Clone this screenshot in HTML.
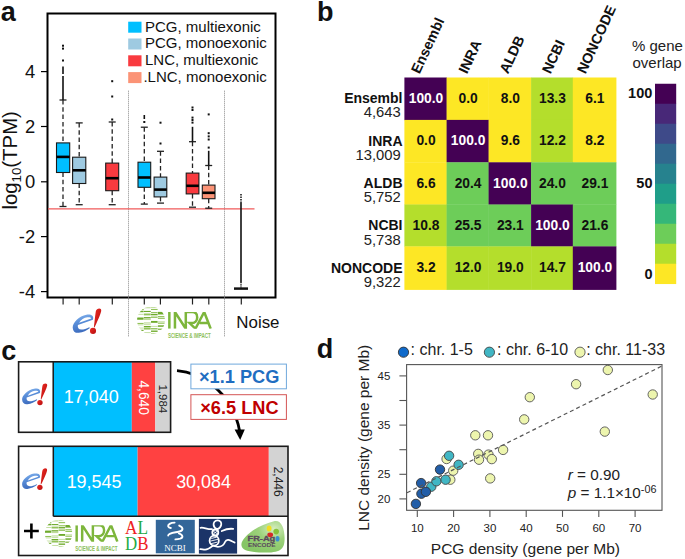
<!DOCTYPE html>
<html><head><meta charset="utf-8"><style>
html,body{margin:0;padding:0;background:#fff;overflow:hidden;width:685px;height:559px;}
svg{display:block;}
text{font-family:"Liberation Sans",sans-serif;fill:#111;}
.wh{stroke:#222;stroke-width:1.3;stroke-dasharray:4.5,2.8;}
.cap{stroke:#222;stroke-width:1.3;}
.bx{stroke:#1a1a1a;stroke-width:1.1;}
.med{stroke:#000;stroke-width:2.6;}
.ol{stroke:#111;stroke-width:1.6;}
</style></head><body>
<svg width="685" height="559" viewBox="0 0 685 559">
<defs>
<linearGradient id="eg" x1="0" y1="0" x2="0.3" y2="1">
<stop offset="0" stop-color="#8AB8F0"/><stop offset="0.45" stop-color="#5B90DA"/><stop offset="1" stop-color="#3D6CBE"/></linearGradient>
<linearGradient id="rg" x1="0" y1="0" x2="1" y2="1">
<stop offset="0" stop-color="#EC2A22"/><stop offset="1" stop-color="#B50E10"/></linearGradient>
<radialGradient id="fg" cx="0.75" cy="0.25" r="0.8">
<stop offset="0" stop-color="#D6EDC0"/><stop offset="0.45" stop-color="#9CD27A"/><stop offset="1" stop-color="#86C566"/></radialGradient>
<clipPath id="tclip"><rect x="28" y="5.4" width="50" height="16.8"/></clipPath>
<clipPath id="gclip"><circle cx="14" cy="13.8" r="13.9"/></clipPath>


</defs>
<text x="0.8" y="21.2" font-size="27" font-weight="bold">a</text>
<text x="317" y="21" font-size="27" font-weight="bold">b</text>
<text x="1.2" y="359.8" font-size="27" font-weight="bold">c</text>
<text x="316.8" y="358.3" font-size="27" font-weight="bold">d</text>
<rect x="47.5" y="13.5" width="228" height="284" fill="none" stroke="#000" stroke-width="2"/>
<line x1="128.5" y1="90.7" x2="128.5" y2="337" stroke="#888" stroke-width="1" stroke-dasharray="1,1"/>
<line x1="224.5" y1="90.7" x2="224.5" y2="337" stroke="#888" stroke-width="1" stroke-dasharray="1,1"/>
<line x1="41" y1="71.6" x2="47" y2="71.6" stroke="#000" stroke-width="1.2"/>
<text x="35.2" y="78.19999999999999" text-anchor="end" font-size="18.4">4</text>
<line x1="41" y1="126.5" x2="47" y2="126.5" stroke="#000" stroke-width="1.2"/>
<text x="35.2" y="133.1" text-anchor="end" font-size="18.4">2</text>
<line x1="41" y1="181.8" x2="47" y2="181.8" stroke="#000" stroke-width="1.2"/>
<text x="35.2" y="188.4" text-anchor="end" font-size="18.4">0</text>
<line x1="41" y1="236.6" x2="47" y2="236.6" stroke="#000" stroke-width="1.2"/>
<text x="35.2" y="243.2" text-anchor="end" font-size="18.4">-2</text>
<line x1="41" y1="291.6" x2="47" y2="291.6" stroke="#000" stroke-width="1.2"/>
<text x="35.2" y="298.20000000000005" text-anchor="end" font-size="18.4">-4</text>
<line x1="63.1" y1="298" x2="63.1" y2="304.5" stroke="#222" stroke-width="1.2"/>
<line x1="79.2" y1="298" x2="79.2" y2="304.5" stroke="#222" stroke-width="1.2"/>
<line x1="112.3" y1="298" x2="112.3" y2="304.5" stroke="#222" stroke-width="1.2"/>
<line x1="144.3" y1="298" x2="144.3" y2="304.5" stroke="#222" stroke-width="1.2"/>
<line x1="160.4" y1="298" x2="160.4" y2="304.5" stroke="#222" stroke-width="1.2"/>
<line x1="192.5" y1="298" x2="192.5" y2="304.5" stroke="#222" stroke-width="1.2"/>
<line x1="208.8" y1="298" x2="208.8" y2="304.5" stroke="#222" stroke-width="1.2"/>
<line x1="241.3" y1="298" x2="241.3" y2="304.5" stroke="#222" stroke-width="1.2"/>
<line x1="48" y1="208.9" x2="254.5" y2="208.9" stroke="#F05A5A" stroke-width="1.3"/>
<line x1="63" y1="100" x2="63" y2="142.9" class="wh"/>
<line x1="63" y1="172.5" x2="63" y2="206.5" class="wh"/>
<line x1="59.5" y1="100" x2="66.5" y2="100" class="cap"/>
<line x1="59.5" y1="206.5" x2="66.5" y2="206.5" class="cap"/>
<rect x="56.5" y="142.9" width="13.200000000000003" height="29.599999999999994" fill="#00BFFF" class="bx"/>
<line x1="56.5" y1="156.9" x2="69.7" y2="156.9" class="med"/>
<line x1="63" y1="66.5" x2="63" y2="74" class="ol"/>
<line x1="63" y1="76" x2="63" y2="100" class="ol"/>
<rect x="62" y="44.7" width="2" height="2" fill="#111"/>
<rect x="62" y="47.6" width="2" height="2" fill="#111"/>
<rect x="62" y="59.5" width="2" height="2" fill="#111"/>
<line x1="79.2" y1="122.9" x2="79.2" y2="157.2" class="wh"/>
<line x1="79.2" y1="183.5" x2="79.2" y2="204.7" class="wh"/>
<line x1="75.7" y1="122.9" x2="82.7" y2="122.9" class="cap"/>
<line x1="75.7" y1="204.7" x2="82.7" y2="204.7" class="cap"/>
<rect x="72.6" y="157.2" width="13.200000000000003" height="26.30000000000001" fill="#9ECAE1" class="bx"/>
<line x1="72.6" y1="170.3" x2="85.8" y2="170.3" class="med"/>
<line x1="112.2" y1="122" x2="112.2" y2="163.1" class="wh"/>
<line x1="112.2" y1="190.7" x2="112.2" y2="204.7" class="wh"/>
<line x1="108.7" y1="122" x2="115.7" y2="122" class="cap"/>
<line x1="108.7" y1="204.7" x2="115.7" y2="204.7" class="cap"/>
<rect x="105.7" y="163.1" width="13.0" height="27.599999999999994" fill="#F93A3F" class="bx"/>
<line x1="105.7" y1="178.2" x2="118.7" y2="178.2" class="med"/>
<rect x="111.2" y="80.2" width="2" height="2" fill="#111"/>
<rect x="111.2" y="95.5" width="2" height="2" fill="#111"/>
<rect x="111.2" y="118.5" width="2" height="2" fill="#111"/>
<line x1="144.3" y1="127.2" x2="144.3" y2="162.2" class="wh"/>
<line x1="144.3" y1="187.3" x2="144.3" y2="204.1" class="wh"/>
<line x1="140.8" y1="127.2" x2="147.8" y2="127.2" class="cap"/>
<line x1="140.8" y1="204.1" x2="147.8" y2="204.1" class="cap"/>
<rect x="138" y="162.2" width="12.699999999999989" height="25.100000000000023" fill="#00BFFF" class="bx"/>
<line x1="138" y1="177.5" x2="150.7" y2="177.5" class="med"/>
<line x1="144.3" y1="115" x2="144.3" y2="119" class="ol"/>
<rect x="143.3" y="121" width="2" height="2" fill="#111"/>
<line x1="160.5" y1="151.3" x2="160.5" y2="177.1" class="wh"/>
<line x1="160.5" y1="196.9" x2="160.5" y2="203.1" class="wh"/>
<line x1="157.0" y1="151.3" x2="164.0" y2="151.3" class="cap"/>
<line x1="157.0" y1="203.1" x2="164.0" y2="203.1" class="cap"/>
<rect x="154.1" y="177.1" width="12.700000000000017" height="19.80000000000001" fill="#9ECAE1" class="bx"/>
<line x1="154.1" y1="189.6" x2="166.8" y2="189.6" class="med"/>
<rect x="159.5" y="142.5" width="2" height="2" fill="#111"/>
<rect x="159.5" y="121.7" width="2" height="2" fill="#111"/>
<line x1="192.5" y1="141.7" x2="192.5" y2="173.1" class="wh"/>
<line x1="192.5" y1="193.9" x2="192.5" y2="207.2" class="wh"/>
<line x1="189.0" y1="141.7" x2="196.0" y2="141.7" class="cap"/>
<line x1="189.0" y1="207.2" x2="196.0" y2="207.2" class="cap"/>
<rect x="186.2" y="173.1" width="12.700000000000017" height="20.80000000000001" fill="#F93A3F" class="bx"/>
<line x1="186.2" y1="185.8" x2="198.9" y2="185.8" class="med"/>
<line x1="192.5" y1="126.8" x2="192.5" y2="141.7" class="ol"/>
<rect x="191.5" y="106.5" width="2" height="2" fill="#111"/>
<rect x="191.5" y="109" width="2" height="2" fill="#111"/>
<rect x="191.5" y="116.6" width="2" height="2" fill="#111"/>
<rect x="191.5" y="119" width="2" height="2" fill="#111"/>
<rect x="191.5" y="121.6" width="2" height="2" fill="#111"/>
<line x1="208.7" y1="165.5" x2="208.7" y2="185.1" class="wh"/>
<line x1="208.7" y1="198.7" x2="208.7" y2="208.2" class="wh"/>
<line x1="205.2" y1="165.5" x2="212.2" y2="165.5" class="cap"/>
<line x1="205.2" y1="208.2" x2="212.2" y2="208.2" class="cap"/>
<rect x="202.3" y="185.1" width="12.699999999999989" height="13.599999999999994" fill="#FB9376" class="bx"/>
<line x1="202.3" y1="192.8" x2="215" y2="192.8" class="med"/>
<line x1="208.7" y1="150.8" x2="208.7" y2="165.5" class="ol"/>
<rect x="207.7" y="113.4" width="2" height="2" fill="#111"/>
<rect x="207.7" y="132.2" width="2" height="2" fill="#111"/>
<rect x="207.7" y="135.4" width="2" height="2" fill="#111"/>
<rect x="207.7" y="138.5" width="2" height="2" fill="#111"/>
<rect x="207.7" y="146.6" width="2" height="2" fill="#111"/>
<line x1="241" y1="194" x2="241" y2="203" stroke="#111" stroke-width="1.5" stroke-dasharray="1.5,1"/>
<line x1="241" y1="203" x2="241" y2="282" stroke="#111" stroke-width="1.6"/>
<line x1="234" y1="288.6" x2="248" y2="288.6" stroke="#111" stroke-width="2.5"/>
<line x1="241" y1="282" x2="241" y2="288" stroke="#111" stroke-width="1.5" stroke-dasharray="1.2,1"/>
<rect x="128.2" y="21.7" width="13.3" height="11" fill="#00BFFF"/>
<text x="145" y="31.6" font-size="15">PCG, multiexonic</text>
<rect x="128.2" y="38.5" width="13.3" height="11" fill="#9ECAE1"/>
<text x="145" y="48.4" font-size="15">PCG, monoexonic</text>
<rect x="128.2" y="55.3" width="13.3" height="11" fill="#F93A3F"/>
<text x="145" y="65.2" font-size="15">LNC, multiexonic</text>
<rect x="128.2" y="72.10000000000001" width="13.3" height="11" fill="#FB9376"/>
<text x="143.4" y="82.00000000000001" font-size="15">.LNC, monoexonic</text>
<text transform="translate(16.7,209.6) rotate(-90)" font-size="20.4">log<tspan font-size="13.2" dy="4">10</tspan><tspan dy="-4">(TPM)</tspan></text>
<text x="236.3" y="327.9" font-size="16.9">Noise</text>
<rect x="404.40" y="77.50" width="42.50" height="42.70" fill="#440154"/>
<rect x="446.60" y="77.50" width="42.30" height="42.70" fill="#FDE725"/>
<rect x="488.60" y="77.50" width="42.80" height="42.70" fill="#FDE725"/>
<rect x="531.10" y="77.50" width="42.00" height="42.70" fill="#B4DE2C"/>
<rect x="572.80" y="77.50" width="43.60" height="42.70" fill="#FDE725"/>
<rect x="404.40" y="119.90" width="42.50" height="42.70" fill="#FDE725"/>
<rect x="446.60" y="119.90" width="42.30" height="42.70" fill="#440154"/>
<rect x="488.60" y="119.90" width="42.80" height="42.70" fill="#FDE725"/>
<rect x="531.10" y="119.90" width="42.00" height="42.70" fill="#B4DE2C"/>
<rect x="572.80" y="119.90" width="43.60" height="42.70" fill="#FDE725"/>
<rect x="404.40" y="162.30" width="42.50" height="42.50" fill="#FDE725"/>
<rect x="446.60" y="162.30" width="42.30" height="42.50" fill="#6DCD59"/>
<rect x="488.60" y="162.30" width="42.80" height="42.50" fill="#440154"/>
<rect x="531.10" y="162.30" width="42.00" height="42.50" fill="#6DCD59"/>
<rect x="572.80" y="162.30" width="43.60" height="42.50" fill="#6DCD59"/>
<rect x="404.40" y="204.50" width="42.50" height="42.20" fill="#B4DE2C"/>
<rect x="446.60" y="204.50" width="42.30" height="42.20" fill="#6DCD59"/>
<rect x="488.60" y="204.50" width="42.80" height="42.20" fill="#6DCD59"/>
<rect x="531.10" y="204.50" width="42.00" height="42.20" fill="#440154"/>
<rect x="572.80" y="204.50" width="43.60" height="42.20" fill="#6DCD59"/>
<rect x="404.40" y="246.40" width="42.50" height="43.50" fill="#FDE725"/>
<rect x="446.60" y="246.40" width="42.30" height="43.50" fill="#B4DE2C"/>
<rect x="488.60" y="246.40" width="42.80" height="43.50" fill="#B4DE2C"/>
<rect x="531.10" y="246.40" width="42.00" height="43.50" fill="#B4DE2C"/>
<rect x="572.80" y="246.40" width="43.60" height="43.50" fill="#440154"/>
<text x="426.00" y="102.90" text-anchor="middle" font-size="13.8" font-weight="bold" style="fill:#fff">100.0</text>
<text x="468.10" y="102.90" text-anchor="middle" font-size="13.8" font-weight="bold" style="fill:#111">0.0</text>
<text x="510.35" y="102.90" text-anchor="middle" font-size="13.8" font-weight="bold" style="fill:#111">8.0</text>
<text x="552.45" y="102.90" text-anchor="middle" font-size="13.8" font-weight="bold" style="fill:#111">13.3</text>
<text x="594.95" y="102.90" text-anchor="middle" font-size="13.8" font-weight="bold" style="fill:#111">6.1</text>
<text x="426.00" y="145.30" text-anchor="middle" font-size="13.8" font-weight="bold" style="fill:#111">0.0</text>
<text x="468.10" y="145.30" text-anchor="middle" font-size="13.8" font-weight="bold" style="fill:#fff">100.0</text>
<text x="510.35" y="145.30" text-anchor="middle" font-size="13.8" font-weight="bold" style="fill:#111">9.6</text>
<text x="552.45" y="145.30" text-anchor="middle" font-size="13.8" font-weight="bold" style="fill:#111">12.2</text>
<text x="594.95" y="145.30" text-anchor="middle" font-size="13.8" font-weight="bold" style="fill:#111">8.2</text>
<text x="426.00" y="187.70" text-anchor="middle" font-size="13.8" font-weight="bold" style="fill:#111">6.6</text>
<text x="468.10" y="187.70" text-anchor="middle" font-size="13.8" font-weight="bold" style="fill:#111">20.4</text>
<text x="510.35" y="187.70" text-anchor="middle" font-size="13.8" font-weight="bold" style="fill:#fff">100.0</text>
<text x="552.45" y="187.70" text-anchor="middle" font-size="13.8" font-weight="bold" style="fill:#111">24.0</text>
<text x="594.95" y="187.70" text-anchor="middle" font-size="13.8" font-weight="bold" style="fill:#111">29.1</text>
<text x="426.00" y="229.90" text-anchor="middle" font-size="13.8" font-weight="bold" style="fill:#111">10.8</text>
<text x="468.10" y="229.90" text-anchor="middle" font-size="13.8" font-weight="bold" style="fill:#111">25.5</text>
<text x="510.35" y="229.90" text-anchor="middle" font-size="13.8" font-weight="bold" style="fill:#111">23.1</text>
<text x="552.45" y="229.90" text-anchor="middle" font-size="13.8" font-weight="bold" style="fill:#fff">100.0</text>
<text x="594.95" y="229.90" text-anchor="middle" font-size="13.8" font-weight="bold" style="fill:#111">21.6</text>
<text x="426.00" y="271.80" text-anchor="middle" font-size="13.8" font-weight="bold" style="fill:#111">3.2</text>
<text x="468.10" y="271.80" text-anchor="middle" font-size="13.8" font-weight="bold" style="fill:#111">12.0</text>
<text x="510.35" y="271.80" text-anchor="middle" font-size="13.8" font-weight="bold" style="fill:#111">19.0</text>
<text x="552.45" y="271.80" text-anchor="middle" font-size="13.8" font-weight="bold" style="fill:#111">14.7</text>
<text x="594.95" y="271.80" text-anchor="middle" font-size="13.8" font-weight="bold" style="fill:#fff">100.0</text>
<text x="402.5" y="103.10" text-anchor="end" font-size="14" font-weight="bold">Ensembl</text>
<text x="400.8" y="117.30" text-anchor="end" font-size="14.8" style="fill:#222">4,643</text>
<text x="402.5" y="145.54" text-anchor="end" font-size="14" font-weight="bold">INRA</text>
<text x="400.8" y="159.74" text-anchor="end" font-size="14.8" style="fill:#222">13,009</text>
<text x="402.5" y="187.98" text-anchor="end" font-size="14" font-weight="bold">ALDB</text>
<text x="400.8" y="202.18" text-anchor="end" font-size="14.8" style="fill:#222">5,752</text>
<text x="402.5" y="230.42" text-anchor="end" font-size="14" font-weight="bold">NCBI</text>
<text x="400.8" y="244.62" text-anchor="end" font-size="14.8" style="fill:#222">5,738</text>
<text x="402.5" y="272.86" text-anchor="end" font-size="14" font-weight="bold">NONCODE</text>
<text x="400.8" y="287.06" text-anchor="end" font-size="14.8" style="fill:#222">9,322</text>
<text transform="translate(419.5,74.6) rotate(-65)" font-size="14.3" font-weight="bold">Ensembl</text>
<text transform="translate(467,74.6) rotate(-65)" font-size="14.3" font-weight="bold">INRA</text>
<text transform="translate(508,74.6) rotate(-65)" font-size="14.3" font-weight="bold">ALDB</text>
<text transform="translate(550.5,74.6) rotate(-65)" font-size="14.3" font-weight="bold">NCBI</text>
<text transform="translate(585.5,74.6) rotate(-65)" font-size="14.3" font-weight="bold">NONCODE</text>
<rect x="655" y="83.75" width="21.2" height="20.3" fill="#440154"/>
<rect x="655" y="103.75" width="21.2" height="20.3" fill="#482878"/>
<rect x="655" y="123.75" width="21.2" height="20.3" fill="#3E4A89"/>
<rect x="655" y="143.75" width="21.2" height="20.3" fill="#31688E"/>
<rect x="655" y="163.75" width="21.2" height="20.3" fill="#26828E"/>
<rect x="655" y="183.75" width="21.2" height="20.3" fill="#1F9E89"/>
<rect x="655" y="203.75" width="21.2" height="20.3" fill="#35B779"/>
<rect x="655" y="223.75" width="21.2" height="20.3" fill="#6DCD59"/>
<rect x="655" y="243.75" width="21.2" height="20.3" fill="#B4DE2C"/>
<rect x="655" y="263.75" width="21.2" height="20.3" fill="#FDE725"/>
<text x="652.3" y="98.4" text-anchor="end" font-size="14.5" font-weight="bold">100</text>
<text x="652.5" y="187.6" text-anchor="end" font-size="14.5" font-weight="bold">50</text>
<text x="652.5" y="278.7" text-anchor="end" font-size="14.5" font-weight="bold">0</text>
<text x="632" y="50.9" font-size="15" style="fill:#222">% gene</text>
<text x="632.5" y="68.4" font-size="15" style="fill:#222">overlap</text>
<g transform="translate(71.9,307.8)">
<path fill-rule="evenodd" d="M21.0,11.9 C22.45,7.5 18.6,6.2 14.5,6.9 C7.4,8.2 0.5,14.6 0.8,19.85 C1.0,23.65 3.55,25.4 6.9,25.0 C11.05,24.6 14.9,22.45 18.0,20.15 L17.3,19.35 C14.55,20.95 11.75,21.7 9.55,21.7 C6.6,21.7 5.45,19.85 6.0,17.15 Z M7.2,15.05 C8.8,12.0 12.25,9.7 15.4,9.4 C17.95,9.2 19.2,9.85 19.4,10.6 Z" fill="url(#eg)"/>
<path d="M25.2,1.4 C27.2,0.1 29.8,0.8 29.3,3.2 C28.7,6.6 24.6,15.6 22.6,19.6 L22.0,19.5 C22.6,14.8 23.4,6.4 23.9,3.8 C24.1,2.6 24.5,1.9 25.2,1.4 Z" fill="url(#rg)"/>
<circle cx="21.1" cy="23.1" r="3.05" fill="url(#rg)"/>
</g>
<g transform="translate(137,306.6)">
<g fill="none" stroke="#7DB63C" stroke-width="2.5" stroke-linejoin="miter" clip-path="url(#tclip)">
<path d="M32.35,5.4 V22.2"/>
<path d="M37.95,22.2 V5.4 L48.8,22.2 V5.4 H55.3 C58.6,5.4 60.2,7.6 60.2,10.8 C60.2,14.2 57.9,16.5 54.2,16.5 H52.6 L58.6,22.2"/>
<path d="M58.4,22.2 L67.2,5.4 L73.7,22.2 M62.6,16.5 H71.4"/>
</g>
<text x="30.9" y="31.1" font-size="7.6" font-weight="bold" textLength="42.9" lengthAdjust="spacingAndGlyphs" style="fill:#8CC059">SCIENCE &amp; IMPACT</text>
<g clip-path="url(#gclip)"><rect x="-0.00" y="2.30" width="6.58" height="1.12" fill="#6EAA2B"/><rect x="-0.00" y="4.12" width="6.58" height="1.49" fill="#6EAA2B"/><rect x="-0.00" y="7.28" width="6.58" height="0.89" fill="#BEDB98"/><rect x="-0.00" y="10.90" width="6.58" height="2.23" fill="#6EAA2B"/><rect x="-0.00" y="16.32" width="6.58" height="1.12" fill="#93C35A"/><rect x="-0.00" y="17.87" width="6.58" height="0.89" fill="#BEDB98"/><rect x="-0.00" y="21.01" width="6.58" height="0.89" fill="#BEDB98"/><rect x="-0.00" y="23.19" width="6.58" height="1.12" fill="#6EAA2B"/><rect x="6.87" y="0.58" width="6.87" height="1.12" fill="#BEDB98"/><rect x="6.87" y="4.30" width="6.87" height="1.12" fill="#6EAA2B"/><rect x="6.87" y="6.91" width="6.87" height="1.86" fill="#93C35A"/><rect x="6.87" y="10.49" width="6.87" height="1.34" fill="#6EAA2B"/><rect x="6.87" y="12.32" width="6.87" height="1.12" fill="#BEDB98"/><rect x="6.87" y="15.75" width="6.87" height="1.12" fill="#BEDB98"/><rect x="6.87" y="17.29" width="6.87" height="0.89" fill="#BEDB98"/><rect x="6.87" y="19.36" width="6.87" height="1.34" fill="#6EAA2B"/><rect x="6.87" y="21.10" width="6.87" height="1.86" fill="#93C35A"/><rect x="6.87" y="25.59" width="6.87" height="0.89" fill="#BEDB98"/><rect x="14.02" y="0.41" width="6.58" height="0.89" fill="#BEDB98"/><rect x="14.02" y="2.30" width="6.58" height="1.12" fill="#93C35A"/><rect x="14.02" y="5.45" width="6.58" height="1.12" fill="#93C35A"/><rect x="14.02" y="7.34" width="6.58" height="1.34" fill="#6EAA2B"/><rect x="14.02" y="9.28" width="6.58" height="0.89" fill="#BEDB98"/><rect x="14.02" y="10.43" width="6.58" height="0.89" fill="#93C35A"/><rect x="14.02" y="14.35" width="6.58" height="1.86" fill="#6EAA2B"/><rect x="14.02" y="19.30" width="6.58" height="0.89" fill="#BEDB98"/><rect x="14.02" y="21.48" width="6.58" height="1.34" fill="#93C35A"/><rect x="14.02" y="23.94" width="6.58" height="1.34" fill="#6EAA2B"/><rect x="14.02" y="26.45" width="6.58" height="0.89" fill="#BEDB98"/><rect x="20.89" y="5.28" width="7.16" height="2.60" fill="#6EAA2B"/><rect x="20.89" y="9.45" width="7.16" height="1.12" fill="#93C35A"/><rect x="20.89" y="11.17" width="7.16" height="1.12" fill="#93C35A"/><rect x="20.89" y="14.72" width="7.16" height="0.89" fill="#BEDB98"/><rect x="20.89" y="16.04" width="7.16" height="1.12" fill="#93C35A"/><rect x="20.89" y="18.71" width="7.16" height="1.49" fill="#6EAA2B"/><rect x="20.89" y="22.05" width="7.16" height="1.12" fill="#6EAA2B"/></g>
</g>
<rect x="53" y="361.5" width="78.8" height="71" fill="#00BFFF"/>
<rect x="131.8" y="361.5" width="23.5" height="71" fill="#FF4141"/>
<rect x="155.3" y="361.5" width="15.4" height="71" fill="#D3D3D3"/>
<rect x="18.6" y="361.8" width="152" height="70.5" fill="none" stroke="#1a1a1a" stroke-width="1.6"/>
<line x1="53.2" y1="361.5" x2="53.2" y2="432.5" stroke="#1a1a1a" stroke-width="1.5"/>
<text x="91.2" y="403.4" text-anchor="middle" font-size="18" style="fill:#fff">17,040</text>
<text transform="translate(139.4,397.7) rotate(90)" text-anchor="middle" font-size="13.8" style="fill:#fff">4,640</text>
<text transform="translate(158.6,398.8) rotate(90)" text-anchor="middle" font-size="11.5" style="fill:#222">1,984</text>
<g transform="translate(21.4,382.8) scale(0.88,0.855)">
<path fill-rule="evenodd" d="M21.0,11.9 C22.45,7.5 18.6,6.2 14.5,6.9 C7.4,8.2 0.5,14.6 0.8,19.85 C1.0,23.65 3.55,25.4 6.9,25.0 C11.05,24.6 14.9,22.45 18.0,20.15 L17.3,19.35 C14.55,20.95 11.75,21.7 9.55,21.7 C6.6,21.7 5.45,19.85 6.0,17.15 Z M7.2,15.05 C8.8,12.0 12.25,9.7 15.4,9.4 C17.95,9.2 19.2,9.85 19.4,10.6 Z" fill="url(#eg)"/>
<path d="M25.2,1.4 C27.2,0.1 29.8,0.8 29.3,3.2 C28.7,6.6 24.6,15.6 22.6,19.6 L22.0,19.5 C22.6,14.8 23.4,6.4 23.9,3.8 C24.1,2.6 24.5,1.9 25.2,1.4 Z" fill="url(#rg)"/>
<circle cx="21.1" cy="23.1" r="3.05" fill="url(#rg)"/>
</g>
<path d="M177,370.6 C198,372 232,390 239.6,431" fill="none" stroke="#000" stroke-width="2.8"/>
<path d="M234.6,429.5 L244.8,429.5 L240.2,440 Z" fill="#000"/>
<rect x="190.9" y="364.1" width="95.5" height="24.7" fill="#fff" stroke="#6FA8DC" stroke-width="1"/>
<rect x="190.9" y="394.7" width="95.5" height="24.7" fill="#fff" stroke="#D45555" stroke-width="1"/>
<text x="199" y="382.8" font-size="18.2" font-weight="bold" style="fill:#1F6EC1">×1.1 PCG</text>
<text x="200.2" y="413.9" font-size="18.2" font-weight="bold" style="fill:#C00000">×6.5 LNC</text>
<rect x="53.3" y="446" width="84.3" height="70" fill="#00BFFF"/>
<rect x="137.6" y="446" width="131.2" height="70" fill="#FF4141"/>
<rect x="268.8" y="446" width="19.2" height="70" fill="#D3D3D3"/>
<rect x="18.6" y="446.3" width="269.4" height="109.2" fill="none" stroke="#1a1a1a" stroke-width="1.6"/>
<line x1="53.3" y1="446" x2="53.3" y2="516.3" stroke="#1a1a1a" stroke-width="1.5"/>
<line x1="53.3" y1="516.3" x2="288" y2="516.3" stroke="#1a1a1a" stroke-width="1.5"/>
<text x="94" y="488" text-anchor="middle" font-size="17.9" style="fill:#fff">19,545</text>
<text x="203.5" y="487.9" text-anchor="middle" font-size="17.9" style="fill:#fff">30,084</text>
<text transform="translate(274,481.7) rotate(90)" text-anchor="middle" font-size="12" style="fill:#222">2,446</text>
<g transform="translate(21.4,467.7) scale(0.876,0.85)">
<path fill-rule="evenodd" d="M21.0,11.9 C22.45,7.5 18.6,6.2 14.5,6.9 C7.4,8.2 0.5,14.6 0.8,19.85 C1.0,23.65 3.55,25.4 6.9,25.0 C11.05,24.6 14.9,22.45 18.0,20.15 L17.3,19.35 C14.55,20.95 11.75,21.7 9.55,21.7 C6.6,21.7 5.45,19.85 6.0,17.15 Z M7.2,15.05 C8.8,12.0 12.25,9.7 15.4,9.4 C17.95,9.2 19.2,9.85 19.4,10.6 Z" fill="url(#eg)"/>
<path d="M25.2,1.4 C27.2,0.1 29.8,0.8 29.3,3.2 C28.7,6.6 24.6,15.6 22.6,19.6 L22.0,19.5 C22.6,14.8 23.4,6.4 23.9,3.8 C24.1,2.6 24.5,1.9 25.2,1.4 Z" fill="url(#rg)"/>
<circle cx="21.1" cy="23.1" r="3.05" fill="url(#rg)"/>
</g>
<path d="M24,531 H38.8 M31.4,523.6 V538.5" stroke="#000" stroke-width="2.6"/>
<g transform="translate(44.8,519.8) scale(0.985,0.99)">
<g fill="none" stroke="#7DB63C" stroke-width="2.5" stroke-linejoin="miter" clip-path="url(#tclip)">
<path d="M32.35,5.4 V22.2"/>
<path d="M37.95,22.2 V5.4 L48.8,22.2 V5.4 H55.3 C58.6,5.4 60.2,7.6 60.2,10.8 C60.2,14.2 57.9,16.5 54.2,16.5 H52.6 L58.6,22.2"/>
<path d="M58.4,22.2 L67.2,5.4 L73.7,22.2 M62.6,16.5 H71.4"/>
</g>
<text x="30.9" y="31.1" font-size="7.6" font-weight="bold" textLength="42.9" lengthAdjust="spacingAndGlyphs" style="fill:#8CC059">SCIENCE &amp; IMPACT</text>
<g clip-path="url(#gclip)"><rect x="-0.00" y="2.30" width="6.58" height="1.12" fill="#6EAA2B"/><rect x="-0.00" y="4.12" width="6.58" height="1.49" fill="#6EAA2B"/><rect x="-0.00" y="7.28" width="6.58" height="0.89" fill="#BEDB98"/><rect x="-0.00" y="10.90" width="6.58" height="2.23" fill="#6EAA2B"/><rect x="-0.00" y="16.32" width="6.58" height="1.12" fill="#93C35A"/><rect x="-0.00" y="17.87" width="6.58" height="0.89" fill="#BEDB98"/><rect x="-0.00" y="21.01" width="6.58" height="0.89" fill="#BEDB98"/><rect x="-0.00" y="23.19" width="6.58" height="1.12" fill="#6EAA2B"/><rect x="6.87" y="0.58" width="6.87" height="1.12" fill="#BEDB98"/><rect x="6.87" y="4.30" width="6.87" height="1.12" fill="#6EAA2B"/><rect x="6.87" y="6.91" width="6.87" height="1.86" fill="#93C35A"/><rect x="6.87" y="10.49" width="6.87" height="1.34" fill="#6EAA2B"/><rect x="6.87" y="12.32" width="6.87" height="1.12" fill="#BEDB98"/><rect x="6.87" y="15.75" width="6.87" height="1.12" fill="#BEDB98"/><rect x="6.87" y="17.29" width="6.87" height="0.89" fill="#BEDB98"/><rect x="6.87" y="19.36" width="6.87" height="1.34" fill="#6EAA2B"/><rect x="6.87" y="21.10" width="6.87" height="1.86" fill="#93C35A"/><rect x="6.87" y="25.59" width="6.87" height="0.89" fill="#BEDB98"/><rect x="14.02" y="0.41" width="6.58" height="0.89" fill="#BEDB98"/><rect x="14.02" y="2.30" width="6.58" height="1.12" fill="#93C35A"/><rect x="14.02" y="5.45" width="6.58" height="1.12" fill="#93C35A"/><rect x="14.02" y="7.34" width="6.58" height="1.34" fill="#6EAA2B"/><rect x="14.02" y="9.28" width="6.58" height="0.89" fill="#BEDB98"/><rect x="14.02" y="10.43" width="6.58" height="0.89" fill="#93C35A"/><rect x="14.02" y="14.35" width="6.58" height="1.86" fill="#6EAA2B"/><rect x="14.02" y="19.30" width="6.58" height="0.89" fill="#BEDB98"/><rect x="14.02" y="21.48" width="6.58" height="1.34" fill="#93C35A"/><rect x="14.02" y="23.94" width="6.58" height="1.34" fill="#6EAA2B"/><rect x="14.02" y="26.45" width="6.58" height="0.89" fill="#BEDB98"/><rect x="20.89" y="5.28" width="7.16" height="2.60" fill="#6EAA2B"/><rect x="20.89" y="9.45" width="7.16" height="1.12" fill="#93C35A"/><rect x="20.89" y="11.17" width="7.16" height="1.12" fill="#93C35A"/><rect x="20.89" y="14.72" width="7.16" height="0.89" fill="#BEDB98"/><rect x="20.89" y="16.04" width="7.16" height="1.12" fill="#93C35A"/><rect x="20.89" y="18.71" width="7.16" height="1.49" fill="#6EAA2B"/><rect x="20.89" y="22.05" width="7.16" height="1.12" fill="#6EAA2B"/></g>
</g>
<text x="125" y="534.4" font-family="Liberation Serif" font-size="18.6" textLength="23" lengthAdjust="spacingAndGlyphs" style="font-family:'Liberation Serif',serif;fill:#EE2222">A<tspan style="fill:#22AA44">L</tspan></text>
<text x="125" y="549.9" font-family="Liberation Serif" font-size="18.6" textLength="23.4" lengthAdjust="spacingAndGlyphs" style="font-family:'Liberation Serif',serif;fill:#22AA44">D<tspan style="fill:#EE2222">B</tspan></text>
<rect x="155.8" y="519.8" width="39" height="33.5" fill="#336699"/>
<g fill="none" stroke="#fff" stroke-linecap="round" transform="translate(153,517)"><path d="M21.6,5.6 C17.5,5.6 14.6,7.6 15.2,9.4 C15.6,10.4 16.8,10.9 17.8,11" stroke-width="1.9"/><path d="M26.2,8.6 C30.8,10.6 30.6,13.8 25.4,14.8 C20.4,15.8 15.2,16.2 15.2,18.6" stroke-width="1.9"/><path d="M25.8,16.4 C30.2,17.8 30.4,20.6 27.2,21.6 C25.4,22.1 23.6,22.3 22.4,22.4" stroke-width="1.9"/></g>
<text x="175" y="550.6" text-anchor="middle" font-size="9" textLength="21.6" lengthAdjust="spacingAndGlyphs" style="font-family:'Liberation Serif',serif;fill:#fff">NCBI</text>
<rect x="198.9" y="518.9" width="38.2" height="34.7" fill="#1B3468"/>
<g fill="none" stroke="#fff" stroke-width="1.8" stroke-linecap="round" transform="translate(196,516)"><path d="M21.6,4.4 C24.4,4.4 25.6,6.6 25.2,8.8 C24.8,11 22.8,12.6 21.2,13.4 C19.6,12.6 17.8,11 17.6,8.8 C17.4,6.6 18.8,4.4 21.6,4.4 Z"/><ellipse cx="19.3" cy="16.5" rx="3" ry="3"/><ellipse cx="18.2" cy="24.7" rx="4.6" ry="5"/><path d="M4.6,11.8 C7.5,11 11,13.4 16,13.2"/><path d="M25.8,15 C29,13.5 33,12.4 37.2,12.9"/><path d="M17.9,30 C22,31.5 27,31 29,26 C30.5,22.5 33,23.5 38.6,26.5"/><path d="M16.5,30 C14,32 12,33.8 9,33.6 C7,33.5 5,33 4.3,33.2"/><path d="M15.6,22.4 L20.4,21.2 M14.8,25 L21.6,23.4 M15.4,27.6 L21,26.2 M17.8,15.6 L20.8,17.4 M20.6,15.4 L18,17.6" stroke-width="0.9"/></g>
<path d="M274,521.2 C281,519.5 284.5,528 284.6,538 C284.7,548 282,552.8 265,552.6 C250,552.4 241.2,550.5 241.4,544.5 C241.6,538 255,526 274,521.2 Z" fill="url(#fg)"/>
<text x="247.5" y="541.1" font-size="7.2" font-weight="bold" textLength="27.7" lengthAdjust="spacingAndGlyphs" stroke="#5A4A5C" stroke-width="0.3" style="fill:#5A4A5C">FR-Ag</text>
<text x="247.9" y="547.2" font-size="4.6" font-weight="bold" textLength="27.7" lengthAdjust="spacingAndGlyphs" style="fill:#5A4A5C">ENCODE</text>
<ellipse cx="269.1" cy="528.6" rx="2.4" ry="3" fill="#F2DE1E"/><ellipse cx="276.2" cy="531.6" rx="2.8" ry="2.8" fill="#86C23A"/><ellipse cx="270.2" cy="534.8" rx="2.9" ry="2.4" fill="#D42A2A"/><ellipse cx="277.5" cy="538.8" rx="2" ry="2.8" fill="#3A8FD0"/>
<rect x="406.6" y="364.6" width="255.4" height="145.7" fill="none" stroke="#555" stroke-width="1.1"/>
<line x1="399.4" y1="498.90" x2="406.6" y2="498.90" stroke="#555" stroke-width="1.1"/>
<text x="390.3" y="502.90" text-anchor="end" font-size="11.5" style="fill:#222">20</text>
<line x1="399.4" y1="474.30" x2="406.6" y2="474.30" stroke="#555" stroke-width="1.1"/>
<text x="390.3" y="478.30" text-anchor="end" font-size="11.5" style="fill:#222">25</text>
<line x1="399.4" y1="449.70" x2="406.6" y2="449.70" stroke="#555" stroke-width="1.1"/>
<line x1="399.4" y1="425.10" x2="406.6" y2="425.10" stroke="#555" stroke-width="1.1"/>
<text x="390.3" y="429.10" text-anchor="end" font-size="11.5" style="fill:#222">35</text>
<line x1="399.4" y1="400.50" x2="406.6" y2="400.50" stroke="#555" stroke-width="1.1"/>
<line x1="399.4" y1="375.90" x2="406.6" y2="375.90" stroke="#555" stroke-width="1.1"/>
<text x="390.3" y="379.90" text-anchor="end" font-size="11.5" style="fill:#222">45</text>
<line x1="417.30" y1="510.3" x2="417.30" y2="516.9" stroke="#555" stroke-width="1.1"/>
<text x="417.30" y="532.1" text-anchor="middle" font-size="11.5" style="fill:#222">10</text>
<line x1="453.60" y1="510.3" x2="453.60" y2="516.9" stroke="#555" stroke-width="1.1"/>
<text x="453.60" y="532.1" text-anchor="middle" font-size="11.5" style="fill:#222">20</text>
<line x1="489.90" y1="510.3" x2="489.90" y2="516.9" stroke="#555" stroke-width="1.1"/>
<text x="489.90" y="532.1" text-anchor="middle" font-size="11.5" style="fill:#222">30</text>
<line x1="526.20" y1="510.3" x2="526.20" y2="516.9" stroke="#555" stroke-width="1.1"/>
<text x="526.20" y="532.1" text-anchor="middle" font-size="11.5" style="fill:#222">40</text>
<line x1="562.50" y1="510.3" x2="562.50" y2="516.9" stroke="#555" stroke-width="1.1"/>
<text x="562.50" y="532.1" text-anchor="middle" font-size="11.5" style="fill:#222">50</text>
<line x1="598.80" y1="510.3" x2="598.80" y2="516.9" stroke="#555" stroke-width="1.1"/>
<text x="598.80" y="532.1" text-anchor="middle" font-size="11.5" style="fill:#222">60</text>
<line x1="635.10" y1="510.3" x2="635.10" y2="516.9" stroke="#555" stroke-width="1.1"/>
<text x="635.10" y="532.1" text-anchor="middle" font-size="11.5" style="fill:#222">70</text>
<text x="525.4" y="554.1" text-anchor="middle" font-size="15.55" style="fill:#222">PCG density (gene per Mb)</text>
<text transform="translate(368.8,437.8) rotate(-90)" text-anchor="middle" font-size="15.5" style="fill:#222">LNC density (gene per Mb)</text>
<circle cx="446.6" cy="459" r="4.7" fill="#EDF5AE" stroke="#555" stroke-width="0.9"/>
<circle cx="453.2" cy="470.7" r="4.7" fill="#EDF5AE" stroke="#555" stroke-width="0.9"/>
<circle cx="450.3" cy="479.7" r="4.7" fill="#EDF5AE" stroke="#555" stroke-width="0.9"/>
<circle cx="475.3" cy="435.3" r="4.7" fill="#EDF5AE" stroke="#555" stroke-width="0.9"/>
<circle cx="488" cy="435.3" r="4.7" fill="#EDF5AE" stroke="#555" stroke-width="0.9"/>
<circle cx="478.2" cy="453.9" r="4.7" fill="#EDF5AE" stroke="#555" stroke-width="0.9"/>
<circle cx="479" cy="459.7" r="4.7" fill="#EDF5AE" stroke="#555" stroke-width="0.9"/>
<circle cx="488.5" cy="454.6" r="4.7" fill="#EDF5AE" stroke="#555" stroke-width="0.9"/>
<circle cx="491.8" cy="459.1" r="4.7" fill="#EDF5AE" stroke="#555" stroke-width="0.9"/>
<circle cx="503.1" cy="449.9" r="4.7" fill="#EDF5AE" stroke="#555" stroke-width="0.9"/>
<circle cx="490.2" cy="478.4" r="4.7" fill="#EDF5AE" stroke="#555" stroke-width="0.9"/>
<circle cx="529.8" cy="397.2" r="4.7" fill="#EDF5AE" stroke="#555" stroke-width="0.9"/>
<circle cx="524.2" cy="419.4" r="4.7" fill="#EDF5AE" stroke="#555" stroke-width="0.9"/>
<circle cx="607.8" cy="370" r="4.7" fill="#EDF5AE" stroke="#555" stroke-width="0.9"/>
<circle cx="576.1" cy="384.2" r="4.7" fill="#EDF5AE" stroke="#555" stroke-width="0.9"/>
<circle cx="652.7" cy="394.5" r="4.7" fill="#EDF5AE" stroke="#555" stroke-width="0.9"/>
<circle cx="604.8" cy="431.6" r="4.7" fill="#EDF5AE" stroke="#555" stroke-width="0.9"/>
<circle cx="431.3" cy="486.7" r="4.7" fill="#41B6C4" stroke="#444" stroke-width="0.9"/>
<circle cx="436.4" cy="481.3" r="4.7" fill="#41B6C4" stroke="#444" stroke-width="0.9"/>
<circle cx="445.6" cy="479.7" r="4.7" fill="#41B6C4" stroke="#444" stroke-width="0.9"/>
<circle cx="449.1" cy="455.8" r="4.7" fill="#41B6C4" stroke="#444" stroke-width="0.9"/>
<circle cx="458.6" cy="464.8" r="4.7" fill="#41B6C4" stroke="#444" stroke-width="0.9"/>
<circle cx="415.9" cy="503.9" r="4.7" fill="#225EA8" stroke="#333" stroke-width="0.9"/>
<circle cx="421.1" cy="483.1" r="4.7" fill="#225EA8" stroke="#333" stroke-width="0.9"/>
<circle cx="421.4" cy="493.7" r="4.7" fill="#225EA8" stroke="#333" stroke-width="0.9"/>
<circle cx="425.9" cy="491.8" r="4.7" fill="#225EA8" stroke="#333" stroke-width="0.9"/>
<circle cx="440" cy="469.6" r="4.7" fill="#225EA8" stroke="#333" stroke-width="0.9"/>
<line x1="407" y1="492.7" x2="662" y2="366" stroke="#555" stroke-width="1.2" stroke-dasharray="4,3"/>
<circle cx="403.5" cy="352.2" r="5.1" fill="#0F6ACB" stroke="#333" stroke-width="0.9"/>
<text x="410.6" y="355.3" font-size="16" style="fill:#222">: chr. 1-5</text>
<circle cx="489.4" cy="352.2" r="5.1" fill="#41B6C4" stroke="#444" stroke-width="0.9"/>
<text x="497" y="355.3" font-size="16" style="fill:#222">: chr. 6-10</text>
<circle cx="580" cy="352.2" r="5.1" fill="#EDF5AE" stroke="#555" stroke-width="0.9"/>
<text x="586.2" y="355.3" font-size="16" style="fill:#222">: chr. 11-33</text>
<text x="567.7" y="479.9" font-size="15.3" style="fill:#222"><tspan font-style="italic">r</tspan> = 0.90</text>
<text x="567.7" y="498" font-size="15.3" style="fill:#222"><tspan font-style="italic">p</tspan> = 1.1×10<tspan font-size="10.8" dy="-4.8">-06</tspan></text>
</svg>
</body></html>
